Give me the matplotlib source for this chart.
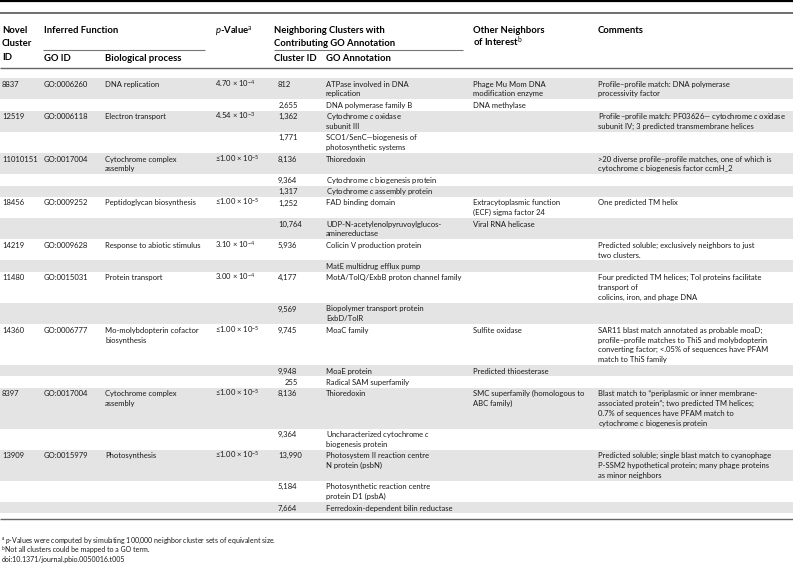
import matplotlib.pyplot as plt
import matplotlib as mpl

mpl.rcParams['font.family'] = ['Lato', 'DejaVu Sans']
mpl.rcParams['mathtext.fontset'] = 'custom'
mpl.rcParams['mathtext.rm'] = 'Lato'
mpl.rcParams['mathtext.it'] = 'Lato:italic'
mpl.rcParams['mathtext.bf'] = 'Lato:bold'

# table content, one entry per sub-row
novel_ids = ["8837", "", "12519", "", "11010151", "", "", "18456", "", "14219", "",
             "11480", "", "14360", "", "", "8397", "", "13909", "", ""]
go_ids = ["GO:0006260", "", "GO:0006118", "", "GO:0017004", "", "", "GO:0009252", "",
          "GO:0009628", "", "GO:0015031", "", "GO:0006777", "", "", "GO:0017004", "",
          "GO:0015979", "", ""]
processes = ["DNA replication", "", "Electron transport", "", "Cytochrome complex\nassembly",
             "", "", "Peptidoglycan biosynthesis", "", "Response to abiotic stimulus", "",
             "Protein transport", "", "Mo-molybdopterin cofactor\nbiosynthesis", "", "",
             "Cytochrome complex\nassembly", "", "Photosynthesis", "", ""]
pvalues = ["4.70 \u00d7 10$^{-4}$", "", "4.54 \u00d7 10$^{-3}$", "", "\u22641.00 \u00d7 10$^{-5}$",
           "", "", "\u22641.00 \u00d7 10$^{-5}$", "", "3.10 \u00d7 10$^{-4}$", "",
           "3.00 \u00d7 10$^{-4}$", "", "\u22641.00 \u00d7 10$^{-5}$", "", "",
           "\u22641.00 \u00d7 10$^{-5}$", "", "\u22641.00 \u00d7 10$^{-5}$", "", ""]
cluster_ids = ["812", "2,655", "1,362", "1,771", "8,136", "9,364", "1,317", "1,252", "10,764",
               "5,936", "", "4,177", "9,569", "9,745", "9,948", "255", "8,136", "9,364",
               "13,990", "5,184", "7,664"]
go_annotations = [
    "ATPase involved in DNA\nreplication",
    "DNA polymerase family B",
    "Cytochrome $c$ oxidase\nsubunit III",
    "SCO1/SenC\u2014biogenesis of\nphotosynthetic systems",
    "Thioredoxin",
    "Cytochrome $c$ biogenesis protein",
    "Cytochrome $c$ assembly protein",
    "FAD binding domain",
    "UDP-N-acetylenolpyruvoylglucos-\naminereductase",
    "Colicin V production protein",
    "MatE multidrug efflux pump",
    "MotA/TolQ/ExbB proton channel family",
    "Biopolymer transport protein\nExbD/TolR",
    "MoaC family",
    "MoaE protein",
    "Radical SAM superfamily",
    "Thioredoxin",
    "Uncharacterized cytochrome $c$\nbiogenesis protein",
    "Photosystem II reaction centre\nN protein (psbN)",
    "Photosynthetic reaction centre\nprotein D1 (psbA)",
    "Ferredoxin-dependent bilin reductase",
]
other_neighbors = ["Phage Mu Mom DNA\nmodification enzyme", "DNA methylase", "", "", "", "", "",
                   "Extracytoplasmic function\n(ECF) sigma factor 24", "Viral RNA helicase",
                   "", "", "", "", "Sulfite oxidase", "Predicted thioesterase", "",
                   "SMC superfamily (homologous to\nABC family)", "", "", "", ""]
comments = [
    "Profile\u2013profile match: DNA polymerase\nprocessivity factor",
    "",
    "Profile\u2013profile match: PF03626\u2014 cytochrome $c$ oxidase\nsubunit IV; 3 predicted transmembrane helices",
    "",
    ">20 diverse profile\u2013profile matches, one of which is\ncytochrome c biogenesis factor ccmH_2",
    "", "",
    "One predicted TM helix",
    "",
    "Predicted soluble; exclusively neighbors to just\ntwo clusters.",
    "",
    "Four predicted TM helices; Tol proteins facilitate\ntransport of\ncolicins, iron, and phage DNA",
    "",
    "SAR11 blast match annotated as probable moaD;\nprofile\u2013profile matches to ThiS and molybdopterin\n"
    "converting factor; <.05% of sequences have PFAM\nmatch to ThiS family",
    "", "",
    "Blast match to \u201cperiplasmic or inner membrane-\nassociated protein\u201d; two predicted TM helices;\n"
    "0.7% of sequences have PFAM match to\ncytochrome $c$ biogenesis protein",
    "",
    "Predicted soluble; single blast match to cyanophage\nP-SSM2 hypothetical protein; many phage proteins\nas minor neighbors",
    "", "",
]
footnote_marks = ["a", "b", ""]
footnotes = ["$p$-Values were computed by simulating 100,000 neighbor cluster sets of equivalent size.",
             "Not all clusters could be mapped to a GO term.",
             "doi:10.1371/journal.pbio.0050016.t005"]

W, H = 793, 564
fig = plt.figure(figsize=(W / 100, H / 100), dpi=100)
ax = fig.add_axes([0, 0, 1, 1])
ax.set_xlim(0, W)
ax.set_ylim(H, 0)
ax.axis('off')

fs = 5.5
hfs = 6.8
txt = '#1a1a1a'
shade = '#e4e4e4'
L = 9.85      # line height
P = 1.5       # row padding
cols = [novel_ids, go_ids, processes, pvalues, cluster_ids, go_annotations, other_neighbors, comments]
xs = [2, 44, 105, 215, 278, 326, 473, 598]
right_cid = {1: 298, 15: 298}

# header
ax.hlines(1, 0, W, color='black', lw=1.6)
ax.hlines(13, 0, W, color='#555555', lw=1.2)
ax.hlines(50, 43, 205, color='#777777', lw=0.8)
ax.hlines(50, 274, 463, color='#777777', lw=0.8)
ax.hlines(68, 0, W, color='#666666', lw=1.0)
hdr = [(2, ["Novel", "Cluster", "ID"]), (44, ["Inferred Function"]),
       (215, ["$\\mathbf{\\mathit{p}}$-Value$^{\\mathrm{a}}$"]),
       (274, ["Neighboring Clusters with", "Contributing GO Annotation"]),
       (473, ["Other Neighbors", "of Interest$^{\\mathrm{b}}$"]), (598, ["Comments"])]
for x, lines in hdr:
    for i, s in enumerate(lines):
        ax.text(x, 33 + 13.3 * i, s, fontsize=hfs, fontweight='bold', color='black', va='baseline')
for x, s in [(44, "GO ID"), (105, "Biological process"), (274, "Cluster ID"), (326, "GO Annotation")]:
    ax.text(x, 61, s, fontsize=hfs, fontweight='bold', color='black', va='baseline')

# body
top = 78
for r in range(len(cluster_ids)):
    n = max(c[r].count("\n") + 1 for c in cols)
    h = n * L + P
    if r % 2 == 0:
        ax.axhspan(top, top + h, color=shade, lw=0, zorder=0)
    for c, x in zip(cols, xs):
        for i, s in enumerate(c[r].split("\n")):
            if not s:
                continue
            if c is cluster_ids and r in right_cid:
                ax.text(right_cid[r], top + 8.6 + L * i, s, fontsize=fs, color=txt, va='baseline', ha='right')
            else:
                ax.text(x, top + 8.6 + L * i, s, fontsize=fs, color=txt, va='baseline')
    top += h

ax.hlines(top + 6, 0, W, color='#666666', lw=1.0)

# footnotes
for i, (m, s) in enumerate(zip(footnote_marks, footnotes)):
    y = top + 29.5 + 9.6 * i
    x0 = 2
    if m:
        ax.text(x0, y - 2.6, m, fontsize=3.4, color=txt, va='baseline')
        x0 = 4.6
    ax.text(x0, y, s, fontsize=5.0, color=txt, va='baseline')

fig.savefig("out.png", dpi=100)
